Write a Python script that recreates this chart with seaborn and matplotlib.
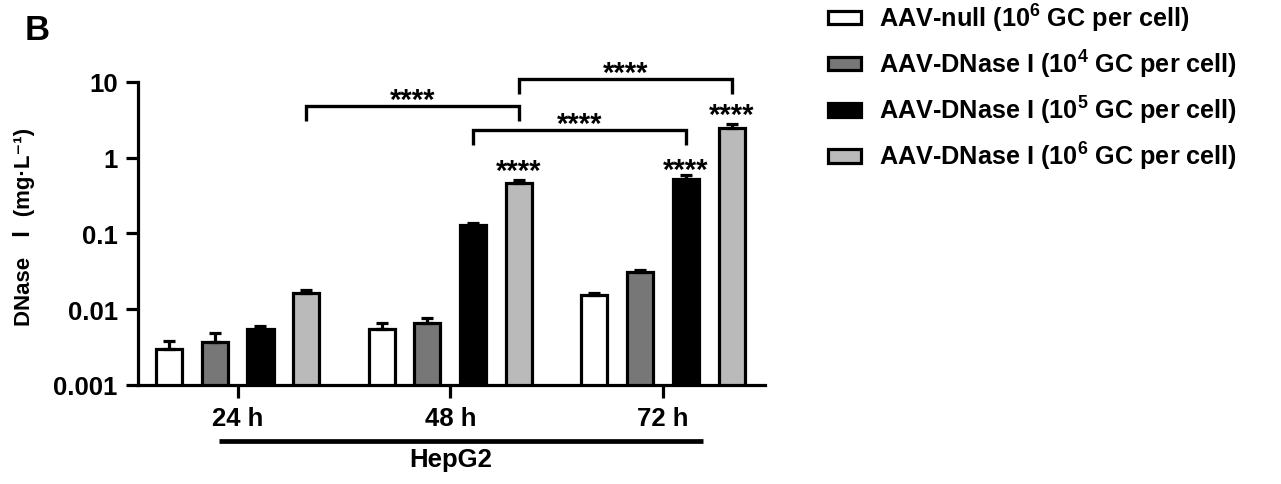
import numpy as np
import pandas as pd
import seaborn as sns
import matplotlib.pyplot as plt
import matplotlib.ticker as mticker

# ---------------------------------------------------------------- data
times = ["24 h", "48 h", "72 h"]
groups = ["AAV-null (10$^{6}$ GC per cell)",
          "AAV-DNase I (10$^{4}$ GC per cell)",
          "AAV-DNase I (10$^{5}$ GC per cell)",
          "AAV-DNase I (10$^{6}$ GC per cell)"]
colors = ["#ffffff", "#777777", "#000000", "#bababa"]

# mean DNase I, mg/L  (24 h, 48 h, 72 h)
null_1e6 = [0.0030, 0.0055, 0.0156]
dnase_1e4 = [0.0037, 0.0065, 0.0308]
dnase_1e5 = [0.0054, 0.127, 0.514]
dnase_1e6 = [0.0163, 0.465, 2.47]
# upper error (SD)
null_1e6_err = [0.00075, 0.0011, 0.0008]
dnase_1e4_err = [0.00115, 0.0011, 0.0023]
dnase_1e5_err = [0.00056, 0.0095, 0.066]
dnase_1e6_err = [0.0018, 0.045, 0.26]

yticks = [0.001, 0.01, 0.1, 1, 10]
ytick_labels = ["0.001", "0.01", "0.1", "1", "10"]

# brackets: (group, time) -> (group, time), bar height, leg bottom
brackets = [((3, 0), (3, 1), 4.72, 3.07),
            ((3, 1), (3, 2), 10.9, 6.9),
            ((2, 1), (2, 2), 2.31, 1.47)]
# stars on single bars: (group, time, height of the stars)
bar_stars = [(3, 1, 0.77), (2, 2, 0.80), (3, 2, 4.3)]
sig_text = "****"

# ---------------------------------------------------------------- frame
means = [null_1e6, dnase_1e4, dnase_1e5, dnase_1e6]
errs = [null_1e6_err, dnase_1e4_err, dnase_1e5_err, dnase_1e6_err]
rows = []
for g, vals in zip(groups, means):
    for t, v in zip(times, vals):
        rows.append({"time": t, "group": g, "value": v})
df = pd.DataFrame(rows)

sns.set_theme(style="ticks")
plt.rcParams["font.family"] = ["Liberation Sans", "Noto Sans CJK SC", "DejaVu Sans"]
plt.rcParams["font.weight"] = "bold"
plt.rcParams["mathtext.default"] = "regular"
plt.rcParams["text.color"] = "black"
plt.rcParams["axes.labelcolor"] = "black"
plt.rcParams["axes.edgecolor"] = "black"

W, H = 1281, 485
fig = plt.figure(figsize=(W / 100, H / 100), dpi=100)
ax = fig.add_axes([138 / W, 99 / H, (765 - 138) / W, 303.3 / H])

lw = 2.3
sns.barplot(data=df, x="time", y="value", hue="group", order=times,
            hue_order=groups, palette=colors, saturation=1,
            width=0.861, gap=0.43, errorbar=None,
            edgecolor="black", linewidth=lw, ax=ax)
ax.set_yscale("log")

# bar centres from the drawn bars
bar_conts = list(ax.containers)
centers = {}
for gi, cont in enumerate(bar_conts):
    for ti, bar in enumerate(cont.patches):
        centers[(gi, ti)] = bar.get_x() + bar.get_width() / 2

# error bars (upper only)
for gi in range(len(groups)):
    xs = [centers[(gi, ti)] for ti in range(len(times))]
    ax.errorbar(xs, means[gi], yerr=[np.zeros(len(times)), errs[gi]],
                fmt="none", ecolor="black", elinewidth=lw, capsize=4.5,
                capthick=lw, zorder=3)

ax.set_ylim(0.001, 10)
ax.set_xlim(-0.468, 2.479)
ax.yaxis.set_major_locator(mticker.FixedLocator(yticks))
ax.yaxis.set_minor_locator(mticker.NullLocator())
ax.set_yticklabels(ytick_labels)
ax.set_xlabel("")
ax.set_ylabel("DNase  Ⅰ (mg·L⁻¹)", fontsize=16, fontweight="bold")
ax.yaxis.set_label_coords(-0.164, 0.524)

sns.despine(ax=ax)
for s in ["left", "bottom"]:
    ax.spines[s].set_linewidth(lw)
ax.tick_params(axis="both", width=lw, length=9, labelsize=18.5, colors="black")
ax.tick_params(axis="x", pad=6)
ax.tick_params(axis="y", pad=5.5)
for lab in ax.get_xticklabels() + ax.get_yticklabels():
    lab.set_fontweight("bold")

# significance brackets
for (a, b, h, leg) in brackets:
    x1, x2 = centers[a], centers[b]
    ax.plot([x1, x1, x2, x2], [leg, h, h, leg], color="black", lw=2.4,
            clip_on=False, solid_joinstyle="miter", solid_capstyle="butt")
    ax.annotate(sig_text, ((x1 + x2) / 2, h), xytext=(0, -1.2), textcoords="offset points",
                ha="center", va="baseline", fontsize=21, fontweight="bold",
                annotation_clip=False)
for (gi, ti, h) in bar_stars:
    ax.annotate(sig_text, (centers[(gi, ti)], h), xytext=(0, -9.5),
                textcoords="offset points", ha="center", va="baseline",
                fontsize=21, fontweight="bold", annotation_clip=False)

# cell line bar under the axis
xt = ax.get_xaxis_transform()
ax.plot([-0.087, 2.188], [-0.1836, -0.1836], color="black", lw=3.4,
        transform=xt, clip_on=False, solid_capstyle="butt")
ax.text(1.0, -0.244, "HepG2", transform=xt, ha="center", va="center",
        fontsize=18.5, fontweight="bold")

# legend
handles, labels = ax.get_legend_handles_labels()
if ax.get_legend() is not None:
    ax.get_legend().remove()
fig.legend(handles, labels, loc="upper left", bbox_to_anchor=(828 / W, 0.994),
           frameon=False, prop={"weight": "bold", "size": 18.2},
           handlelength=1.3, handleheight=0.43, handletextpad=0.72,
           labelspacing=0.55, borderpad=0, borderaxespad=0)

fig.text(25 / W, (H - 30) / H, "B", fontsize=25, fontweight="bold",
         ha="left", va="center")

fig.savefig("out.png", dpi=100)
